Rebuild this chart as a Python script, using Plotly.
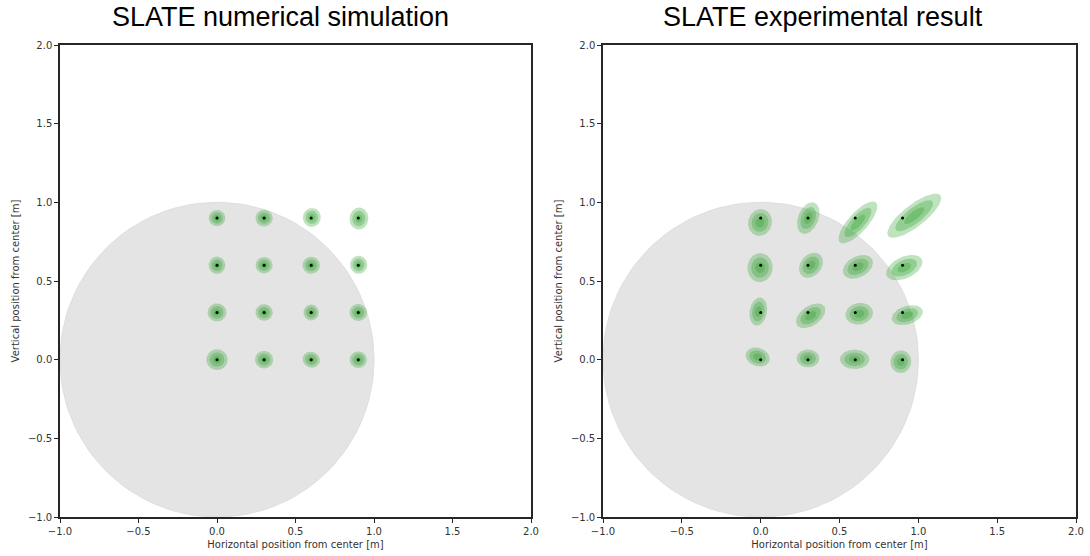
import numpy as np
import plotly.graph_objects as go

# ---------------- data ----------------
grid_x = [0.0, 0.3, 0.6, 0.9] * 4
grid_y = [0.0] * 4 + [0.3] * 4 + [0.6] * 4 + [0.9] * 4

disc_radius = [1.0]
disc_center = [0.0, 0.0]

# numerical simulation: ellipse offset, semi-axes, angle (deg)
sim_dx = [0.0, 0.0, 0.0, 0.0, 0.0, 0.0, 0.0, 0.0, 0.0, 0.0, 0.0, 0.002, 0.0, 0.0, 0.004, 0.004]
sim_dy = [0.0, 0.0, 0.0, 0.0, 0.0, 0.0, 0.0, 0.0, 0.0, 0.0, 0.0, 0.003, 0.0, 0.0, 0.004, -0.003]
sim_a = [0.068, 0.058, 0.056, 0.055, 0.060, 0.055, 0.051, 0.056,
         0.055, 0.054, 0.056, 0.058, 0.053, 0.055, 0.060, 0.070]
sim_b = [0.066, 0.056, 0.050, 0.053, 0.058, 0.053, 0.049, 0.054,
         0.053, 0.052, 0.054, 0.055, 0.052, 0.053, 0.057, 0.060]
sim_ang = [0, 0, -20, 0, 0, 0, 90, 0, 90, 0, 0, 90, 0, 0, 80, 85]

# experimental result
exp_dx = [-0.019, 0.0, -0.004, -0.011, -0.015, 0.017, 0.025, 0.030,
          -0.004, 0.019, 0.017, 0.011, -0.004, 0.002, 0.017, 0.074]
exp_dy = [0.017, 0.008, 0.002, -0.013, 0.006, -0.021, -0.008, -0.017,
          -0.015, 0.0, -0.010, -0.015, -0.028, 0.0, -0.028, 0.015]
exp_a = [0.078, 0.072, 0.093, 0.072, 0.090, 0.105, 0.088, 0.102,
         0.092, 0.088, 0.102, 0.123, 0.086, 0.105, 0.170, 0.210]
exp_b = [0.058, 0.057, 0.062, 0.066, 0.055, 0.062, 0.068, 0.058,
         0.080, 0.066, 0.066, 0.068, 0.075, 0.064, 0.062, 0.070]
exp_ang = [-20, 0, 0, 80, 80, 35, 10, 18, 85, 50, 28, 25, 75, 68, 48, 38]

level_scales = [1.0, 0.7, 0.38]

titles = ["SLATE numerical simulation", "SLATE experimental result"]
x_label = "Horizontal position from center [m]"
y_label = "Vertical position from center [m]"
tick_vals = [-1.0, -0.5, 0.0, 0.5, 1.0, 1.5, 2.0]
tick_text = ["\u22121.0", "\u22120.5", "0.0", "0.5", "1.0", "1.5", "2.0"]

# ---------------- figure ----------------
W, H = 1090, 556
fig = go.Figure()

t = np.linspace(0, 2 * np.pi, 120)


def ellipse(cx, cy, a, b, ang):
    th = np.deg2rad(ang)
    xe = a * np.cos(t)
    ye = b * np.sin(t)
    return (cx + xe * np.cos(th) - ye * np.sin(th),
            cy + xe * np.sin(th) + ye * np.cos(th))


panels = [
    ("x", "y", sim_dx, sim_dy, sim_a, sim_b, sim_ang),
    ("x2", "y2", exp_dx, exp_dy, exp_a, exp_b, exp_ang),
]

for xr, yr, dxs, dys, As, Bs, angs in panels:
    # disc
    cx, cy = ellipse(disc_center[0], disc_center[1], disc_radius[0], disc_radius[0], 0)
    fig.add_trace(go.Scatter(x=cx, y=cy, mode="lines", fill="toself",
                             fillcolor="#e4e4e4", line=dict(color="#dedede", width=1),
                             hoverinfo="skip", showlegend=False, xaxis=xr, yaxis=yr))
    for i in range(len(grid_x)):
        for s in level_scales:
            ex, ey = ellipse(grid_x[i] + dxs[i], grid_y[i] + dys[i],
                             As[i] * s, Bs[i] * s, angs[i])
            fig.add_trace(go.Scatter(x=ex, y=ey, mode="lines", fill="toself",
                                     fillcolor="rgba(44,160,44,0.3)",
                                     line=dict(width=0, color="rgba(0,0,0,0)"),
                                     hoverinfo="skip", showlegend=False,
                                     xaxis=xr, yaxis=yr))
    fig.add_trace(go.Scatter(x=grid_x, y=grid_y, mode="markers",
                             marker=dict(color="black", size=3),
                             showlegend=False, xaxis=xr, yaxis=yr))

axis_common = dict(
    range=[-1, 2], tickvals=tick_vals, ticktext=tick_text,
    showgrid=False, zeroline=False, showline=True, mirror=True,
    linecolor="#262626", linewidth=1.5, ticks="outside", ticklen=4,
    tickcolor="#262626", tickwidth=1, automargin=False,
    tickfont=dict(family="DejaVu Sans", size=10, color="#333333"),
)
title_font = dict(family="DejaVu Sans", size=10, color="#333333")

ybot = (H - 517) / H
ytop = (H - 45) / H
fig.update_layout(
    width=W, height=H, margin=dict(l=0, r=0, t=0, b=0),
    paper_bgcolor="white", plot_bgcolor="white",
    xaxis=dict(domain=[60 / W, 531 / W], anchor="y",
               title=dict(text=x_label, font=title_font, standoff=5), **axis_common),
    yaxis=dict(domain=[ybot, ytop], anchor="x",
               title=dict(text=y_label, font=title_font, standoff=6), **axis_common),
    xaxis2=dict(domain=[603 / W, 1076 / W], anchor="y2",
                title=dict(text=x_label, font=title_font, standoff=5), **axis_common),
    yaxis2=dict(domain=[ybot, ytop], anchor="x2",
                title=dict(text=y_label, font=title_font, standoff=6), **axis_common),
    annotations=[
        dict(text=titles[0], x=280 / W, y=(H - 17) / H, xref="paper", yref="paper",
             xanchor="center", yanchor="middle", showarrow=False,
             font=dict(family="Liberation Sans", size=27, color="black")),
        dict(text=titles[1], x=823 / W, y=(H - 17) / H, xref="paper", yref="paper",
             xanchor="center", yanchor="middle", showarrow=False,
             font=dict(family="Liberation Sans", size=27, color="black")),
    ],
)

fig.write_html("out.html")
